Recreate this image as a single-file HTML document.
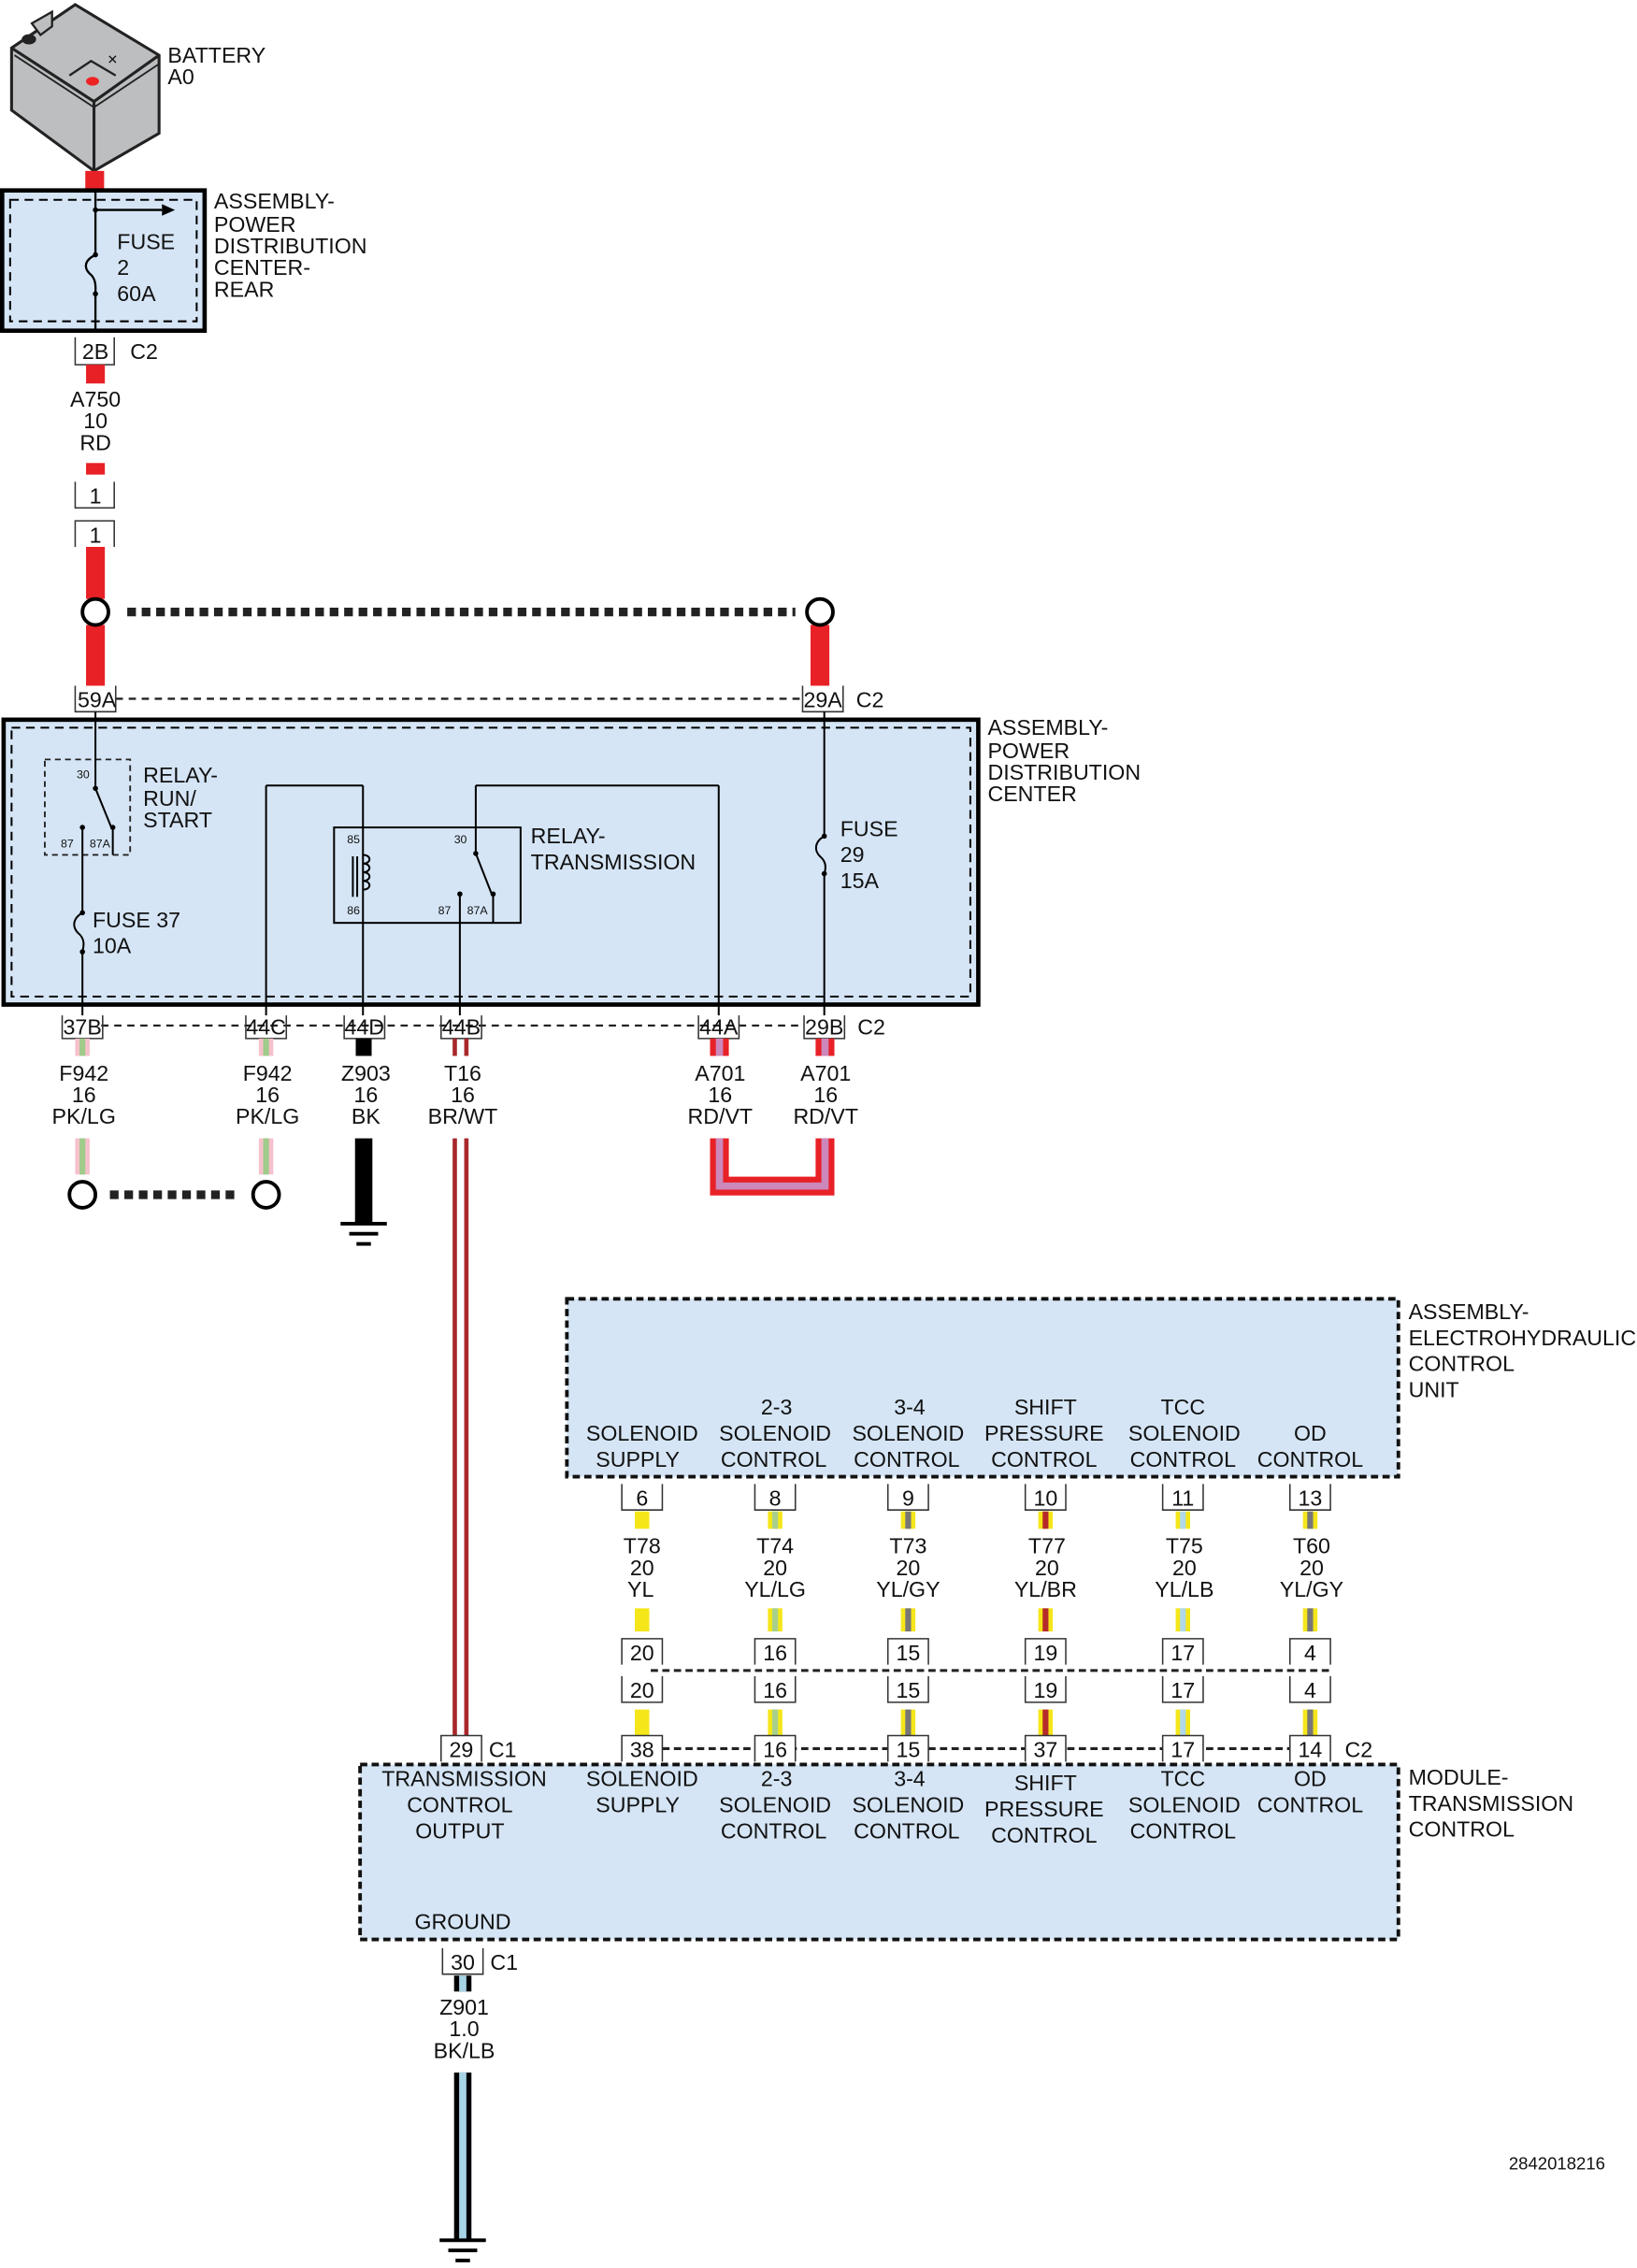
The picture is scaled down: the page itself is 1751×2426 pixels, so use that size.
<!DOCTYPE html>
<html><head><meta charset="utf-8"><style>
html,body{margin:0;padding:0;background:#fff}
svg{display:block}
text{font-family:"Liberation Sans",sans-serif;font-size:15px;fill:#111}
.m{text-anchor:middle}
.s{font-size:8px}
</style></head><body>
<svg width="1751" height="2426" viewBox="0 0 1132 1568" xmlns="http://www.w3.org/2000/svg">
<defs>
<g id="gnd"><line x1="-16" y1="0" x2="16" y2="0" stroke="#000" stroke-width="2.5"/><line x1="-10" y1="7" x2="10" y2="7" stroke="#000" stroke-width="2.5"/><line x1="-5" y1="14" x2="5" y2="14" stroke="#000" stroke-width="2.5"/></g>
</defs>
<rect width="1132" height="1568" fill="#fff"/>

<!-- Battery -->
<polygon points="8,33 52,3 110,38 110,92 65,118 8,76" fill="#bcbec0" stroke="#222" stroke-width="2"/>
<polyline points="8,33 65,70 110,38" fill="none" stroke="#222" stroke-width="2"/>
<line x1="65" y1="70" x2="65" y2="118" stroke="#222" stroke-width="2"/>
<polyline points="10,38 65,74 110,44" fill="none" stroke="#222" stroke-width="1.2"/>
<polygon points="22,16 36,8 36,18 28,24" fill="#bcbec0" stroke="#222" stroke-width="1.5"/>
<ellipse cx="20" cy="27" rx="5" ry="3.5" fill="#222"/>
<polyline points="48,52 63,42 80,52" fill="none" stroke="#222" stroke-width="1.5"/>
<ellipse cx="64" cy="56" rx="4.5" ry="3" fill="#e22"/>
<text x="74" y="44" class="s" style="font-size:9px">✕</text>
<text x="116" y="43">BATTERY</text>
<text x="116" y="58">A0</text>
<rect x="59" y="118" width="13" height="13" fill="#e82127"/>

<!-- PDC rear -->
<rect x="1.5" y="131.5" width="140" height="97" fill="#d5e5f5" stroke="#000" stroke-width="3"/>
<rect x="7" y="138" width="129" height="84" fill="none" stroke="#000" stroke-width="1.3" stroke-dasharray="6,4"/>
<line x1="66" y1="131" x2="66" y2="176" stroke="#000" stroke-width="1.5"/>
<line x1="66" y1="203" x2="66" y2="229" stroke="#000" stroke-width="1.5"/>
<path d="M66,176 C58,180 58,185 62,189 C67,193 66,199 66,203" fill="none" stroke="#000" stroke-width="1.5"/>
<circle cx="66" cy="176" r="1.8"/><circle cx="66" cy="203" r="1.8"/><circle cx="66" cy="145" r="1.8"/>
<line x1="66" y1="145" x2="112" y2="145" stroke="#000" stroke-width="1.5"/>
<polygon points="112,141 121,145 112,149" fill="#000"/>
<text x="81" y="172">FUSE</text><text x="81" y="190">2</text><text x="81" y="208">60A</text>
<text x="148" y="144">ASSEMBLY-</text><text x="148" y="160">POWER</text><text x="148" y="175">DISTRIBUTION</text><text x="148" y="190">CENTER-</text><text x="148" y="205">REAR</text>

<!-- 2B -->
<polyline points="52,233 52,252 79,252 79,233" fill="none" stroke="#333" stroke-width="1"/>
<text x="66" y="248" class="m">2B</text><text x="90" y="248">C2</text>
<rect x="59.5" y="252" width="13" height="13" fill="#e82127"/>
<text x="66" y="281" class="m">A750</text><text x="66" y="296" class="m">10</text><text x="66" y="311" class="m">RD</text>
<rect x="59.5" y="320" width="13" height="8" fill="#e82127"/>
<polyline points="52,333 52,351 79,351 79,333" fill="none" stroke="#333" stroke-width="1"/>
<text x="66" y="348" class="m">1</text>
<polyline points="52,378 52,360 79,360 79,378" fill="none" stroke="#333" stroke-width="1"/>
<text x="66" y="375" class="m">1</text>
<rect x="59.5" y="378" width="13" height="36" fill="#e82127"/>
<rect x="59.5" y="432" width="13" height="43" fill="#e82127"/>
<rect x="560.5" y="432" width="13" height="43" fill="#e82127"/>
<circle cx="66" cy="423" r="9" fill="#fff" stroke="#000" stroke-width="2.5"/>
<circle cx="567" cy="423" r="9" fill="#fff" stroke="#000" stroke-width="2.5"/>
<line x1="88" y1="423" x2="550" y2="423" stroke="#222" stroke-width="6" stroke-dasharray="6,4"/>

<!-- 59A 29A -->
<line x1="80" y1="483" x2="554" y2="483" stroke="#222" stroke-width="1.5" stroke-dasharray="5,4"/>
<polyline points="52,474 52,492 80,492 80,474" fill="#fff" stroke="#333" stroke-width="1"/>
<text x="67" y="489" class="m">59A</text>
<polyline points="555,474 555,492 583,492 583,474" fill="#fff" stroke="#333" stroke-width="1"/>
<text x="569" y="489" class="m">29A</text><text x="592" y="489">C2</text>

<!-- PDC -->
<rect x="2.5" y="497.5" width="674" height="197" fill="#d5e5f5" stroke="#000" stroke-width="3"/>
<rect x="8" y="503" width="663" height="186" fill="none" stroke="#000" stroke-width="1.3" stroke-dasharray="6,4"/>
<text x="683" y="508">ASSEMBLY-</text><text x="683" y="524">POWER</text><text x="683" y="539">DISTRIBUTION</text><text x="683" y="554">CENTER</text>

<!-- relay run/start -->
<rect x="31" y="525" width="59" height="66" fill="none" stroke="#222" stroke-width="1.2" stroke-dasharray="4,3"/>
<g stroke="#000" stroke-width="1.3" fill="none">
<line x1="66" y1="492" x2="66" y2="545"/>
<line x1="66" y1="545" x2="77" y2="572"/>
<line x1="78" y1="572" x2="78" y2="591"/>
<line x1="57" y1="572" x2="57" y2="631"/>
<line x1="57" y1="658" x2="57" y2="702"/>
<path d="M57,631 C50,635 50,641 54,645 C59,649 58,654 57,658"/>
<line x1="184" y1="543" x2="184" y2="702"/>
<line x1="184" y1="543" x2="251" y2="543"/>
<line x1="251" y1="543" x2="251" y2="702"/>
<rect x="231" y="572" width="129" height="66"/>
<line x1="329" y1="543" x2="497" y2="543"/>
<line x1="329" y1="543" x2="329" y2="590"/>
<line x1="329" y1="590" x2="340" y2="618"/>
<line x1="341" y1="618" x2="341" y2="638"/>
<line x1="318" y1="618" x2="318" y2="702"/>
<line x1="497" y1="543" x2="497" y2="702"/>
<line x1="570" y1="492" x2="570" y2="578"/>
<line x1="570" y1="604" x2="570" y2="702"/>
<path d="M570,578 C563,582 563,588 567,592 C572,596 571,601 570,604"/>
<path d="M251,591 c6,0 6,6 0,6 c6,0 6,6 0,6 c6,0 6,6 0,6 c6,0 6,6 0,6"/>
<line x1="244" y1="592" x2="244" y2="620"/><line x1="247" y1="592" x2="247" y2="620"/>
</g>
<circle cx="66" cy="545" r="1.8"/><circle cx="78" cy="572" r="1.8"/><circle cx="57" cy="572" r="1.8"/>
<circle cx="57" cy="631" r="1.8"/><circle cx="57" cy="658" r="1.8"/>
<circle cx="329" cy="590" r="1.8"/><circle cx="341" cy="618" r="1.8"/><circle cx="318" cy="618" r="1.8"/>
<circle cx="570" cy="578" r="1.8"/><circle cx="570" cy="604" r="1.8"/>
<text x="53" y="538" class="s">30</text><text x="42" y="586" class="s">87</text><text x="62" y="586" class="s">87A</text>
<text x="99" y="541">RELAY-</text><text x="99" y="557">RUN/</text><text x="99" y="572">START</text>
<text x="64" y="641">FUSE 37</text><text x="64" y="659">10A</text>
<text x="240" y="583" class="s">85</text><text x="240" y="632" class="s">86</text>
<text x="314" y="583" class="s">30</text><text x="303" y="632" class="s">87</text><text x="323" y="632" class="s">87A</text>
<text x="367" y="583">RELAY-</text><text x="367" y="601">TRANSMISSION</text>
<text x="581" y="578">FUSE</text><text x="581" y="596">29</text><text x="581" y="614">15A</text>

<!-- bottom PDC connectors -->
<line x1="70" y1="709" x2="556" y2="709" stroke="#222" stroke-width="1.5" stroke-dasharray="5,4"/>
<g fill="none" stroke="#333" stroke-width="1">
<polyline points="43,702 43,718 71,718 71,702"/>
<polyline points="170,702 170,718 198,718 198,702"/>
<polyline points="238,702 238,718 266,718 266,702"/>
<polyline points="305,702 305,718 333,718 333,702"/>
<polyline points="483,702 483,718 511,718 511,702"/>
<polyline points="556,702 556,718 584,718 584,702"/>
</g>
<text x="57" y="715" class="m">37B</text><text x="184" y="715" class="m">44C</text><text x="252" y="715" class="m">44D</text>
<text x="319" y="715" class="m">44B</text><text x="497" y="715" class="m">44A</text><text x="570" y="715" class="m">29B</text><text x="593" y="715">C2</text>

<!-- wires under -->
<g>
<rect x="52" y="718" width="10" height="12" fill="#f6c0cc"/><rect x="55" y="718" width="4" height="12" fill="#9fcc8a"/>
<rect x="179" y="718" width="10" height="12" fill="#f6c0cc"/><rect x="182" y="718" width="4" height="12" fill="#9fcc8a"/>
<rect x="246" y="718" width="11" height="12" fill="#000"/>
<rect x="313" y="718" width="3" height="12" fill="#a8282b"/><rect x="321" y="718" width="3" height="12" fill="#a8282b"/>
<rect x="491" y="718" width="13" height="12" fill="#e82127"/><rect x="495" y="718" width="5" height="12" fill="#cc88bb"/>
<rect x="564" y="718" width="13" height="12" fill="#e82127"/><rect x="568" y="718" width="5" height="12" fill="#cc88bb"/>
</g>
<text x="58" y="747" class="m">F942</text><text x="58" y="762" class="m">16</text><text x="58" y="777" class="m">PK/LG</text>
<text x="185" y="747" class="m">F942</text><text x="185" y="762" class="m">16</text><text x="185" y="777" class="m">PK/LG</text>
<text x="253" y="747" class="m">Z903</text><text x="253" y="762" class="m">16</text><text x="253" y="777" class="m">BK</text>
<text x="320" y="747" class="m">T16</text><text x="320" y="762" class="m">16</text><text x="320" y="777" class="m">BR/WT</text>
<text x="498" y="747" class="m">A701</text><text x="498" y="762" class="m">16</text><text x="498" y="777" class="m">RD/VT</text>
<text x="571" y="747" class="m">A701</text><text x="571" y="762" class="m">16</text><text x="571" y="777" class="m">RD/VT</text>

<rect x="52" y="787" width="10" height="25" fill="#f6c0cc"/><rect x="55" y="787" width="4" height="25" fill="#9fcc8a"/>
<rect x="179" y="787" width="10" height="25" fill="#f6c0cc"/><rect x="182" y="787" width="4" height="25" fill="#9fcc8a"/>
<circle cx="57" cy="826" r="9" fill="#fff" stroke="#000" stroke-width="2.5"/>
<circle cx="184" cy="826" r="9" fill="#fff" stroke="#000" stroke-width="2.5"/>
<line x1="76" y1="826" x2="166" y2="826" stroke="#222" stroke-width="6" stroke-dasharray="6,4"/>
<rect x="245.5" y="787" width="12" height="58" fill="#000"/>
<use href="#gnd" x="251.5" y="846"/>
<rect x="313" y="787" width="3" height="413" fill="#a8282b"/><rect x="321" y="787" width="3" height="413" fill="#a8282b"/>
<path d="M497.5,787 V820 H570.5 V787" fill="none" stroke="#e82127" stroke-width="13"/>
<path d="M497.5,787 V820 H570.5 V787" fill="none" stroke="#cc88bb" stroke-width="5"/>

<!-- EHCU -->
<rect x="392" y="898" width="575" height="123" fill="#d5e5f5" stroke="#111" stroke-width="2.5" stroke-dasharray="5,3"/>
<text x="974" y="912">ASSEMBLY-</text><text x="974" y="930">ELECTROHYDRAULIC</text><text x="974" y="948">CONTROL</text><text x="974" y="966">UNIT</text>
<text x="444" y="996" class="m">SOLENOID</text><text x="441" y="1014" class="m">SUPPLY</text>
<text x="537" y="978" class="m">2-3</text><text x="536" y="996" class="m">SOLENOID</text><text x="535" y="1014" class="m">CONTROL</text>
<text x="629" y="978" class="m">3-4</text><text x="628" y="996" class="m">SOLENOID</text><text x="627" y="1014" class="m">CONTROL</text>
<text x="723" y="978" class="m">SHIFT</text><text x="722" y="996" class="m">PRESSURE</text><text x="722" y="1014" class="m">CONTROL</text>
<text x="818" y="978" class="m">TCC</text><text x="819" y="996" class="m">SOLENOID</text><text x="818" y="1014" class="m">CONTROL</text>
<text x="906" y="996" class="m">OD</text><text x="906" y="1014" class="m">CONTROL</text>

<!-- column connectors -->
<g fill="none" stroke="#333" stroke-width="1">
<polyline points="430,1026 430,1044 458,1044 458,1026"/>
<polyline points="522,1026 522,1044 550,1044 550,1026"/>
<polyline points="614,1026 614,1044 642,1044 642,1026"/>
<polyline points="709,1026 709,1044 737,1044 737,1026"/>
<polyline points="804,1026 804,1044 832,1044 832,1026"/>
<polyline points="892,1026 892,1044 920,1044 920,1026"/>
<polyline points="430,1151 430,1133 458,1133 458,1151"/>
<polyline points="522,1151 522,1133 550,1133 550,1151"/>
<polyline points="614,1151 614,1133 642,1133 642,1151"/>
<polyline points="709,1151 709,1133 737,1133 737,1151"/>
<polyline points="804,1151 804,1133 832,1133 832,1151"/>
<polyline points="892,1151 892,1133 920,1133 920,1151"/>
<polyline points="430,1159 430,1177 458,1177 458,1159"/>
<polyline points="522,1159 522,1177 550,1177 550,1159"/>
<polyline points="614,1159 614,1177 642,1177 642,1159"/>
<polyline points="709,1159 709,1177 737,1177 737,1159"/>
<polyline points="804,1159 804,1177 832,1177 832,1159"/>
<polyline points="892,1159 892,1177 920,1177 920,1159"/>
</g>
<line x1="450" y1="1155" x2="920" y2="1155" stroke="#222" stroke-width="2" stroke-dasharray="5,3"/>
<text x="444" y="1041" class="m">6</text><text x="536" y="1041" class="m">8</text><text x="628" y="1041" class="m">9</text><text x="723" y="1041" class="m">10</text><text x="818" y="1041" class="m">11</text><text x="906" y="1041" class="m">13</text>
<text x="444" y="1148" class="m">20</text><text x="536" y="1148" class="m">16</text><text x="628" y="1148" class="m">15</text><text x="723" y="1148" class="m">19</text><text x="818" y="1148" class="m">17</text><text x="906" y="1148" class="m">4</text>
<text x="444" y="1174" class="m">20</text><text x="536" y="1174" class="m">16</text><text x="628" y="1174" class="m">15</text><text x="723" y="1174" class="m">19</text><text x="818" y="1174" class="m">17</text><text x="906" y="1174" class="m">4</text>

<text x="444" y="1074" class="m">T78</text><text x="444" y="1089" class="m">20</text><text x="443" y="1104" class="m">YL</text>
<text x="536" y="1074" class="m">T74</text><text x="536" y="1089" class="m">20</text><text x="536" y="1104" class="m">YL/LG</text>
<text x="628" y="1074" class="m">T73</text><text x="628" y="1089" class="m">20</text><text x="628" y="1104" class="m">YL/GY</text>
<text x="724" y="1074" class="m">T77</text><text x="724" y="1089" class="m">20</text><text x="723" y="1104" class="m">YL/BR</text>
<text x="819" y="1074" class="m">T75</text><text x="819" y="1089" class="m">20</text><text x="819" y="1104" class="m">YL/LB</text>
<text x="907" y="1074" class="m">T60</text><text x="907" y="1089" class="m">20</text><text x="907" y="1104" class="m">YL/GY</text>

<!-- yellow wires: three segments each -->
<g>
<rect x="439" y="1045" width="10" height="12" fill="#f5e61a"/><rect x="439" y="1112" width="10" height="16" fill="#f5e61a"/><rect x="439" y="1182" width="10" height="18" fill="#f5e61a"/>
<rect x="531" y="1045" width="10" height="12" fill="#f5e61a"/><rect x="531" y="1112" width="10" height="16" fill="#f5e61a"/><rect x="531" y="1182" width="10" height="18" fill="#f5e61a"/>
<rect x="534" y="1045" width="4" height="12" fill="#a8d08d"/><rect x="534" y="1112" width="4" height="16" fill="#a8d08d"/><rect x="534" y="1182" width="4" height="18" fill="#a8d08d"/>
<rect x="623" y="1045" width="10" height="12" fill="#f5e61a"/><rect x="623" y="1112" width="10" height="16" fill="#f5e61a"/><rect x="623" y="1182" width="10" height="18" fill="#f5e61a"/>
<rect x="626" y="1045" width="4" height="12" fill="#777"/><rect x="626" y="1112" width="4" height="16" fill="#777"/><rect x="626" y="1182" width="4" height="18" fill="#777"/>
<rect x="718" y="1045" width="10" height="12" fill="#f5e61a"/><rect x="718" y="1112" width="10" height="16" fill="#f5e61a"/><rect x="718" y="1182" width="10" height="18" fill="#f5e61a"/>
<rect x="721" y="1045" width="4" height="12" fill="#b52a2a"/><rect x="721" y="1112" width="4" height="16" fill="#b52a2a"/><rect x="721" y="1182" width="4" height="18" fill="#b52a2a"/>
<rect x="813" y="1045" width="10" height="12" fill="#f5e61a"/><rect x="813" y="1112" width="10" height="16" fill="#f5e61a"/><rect x="813" y="1182" width="10" height="18" fill="#f5e61a"/>
<rect x="816" y="1045" width="4" height="12" fill="#b0d8e8"/><rect x="816" y="1112" width="4" height="16" fill="#b0d8e8"/><rect x="816" y="1182" width="4" height="18" fill="#b0d8e8"/>
<rect x="901" y="1045" width="10" height="12" fill="#f5e61a"/><rect x="901" y="1112" width="10" height="16" fill="#f5e61a"/><rect x="901" y="1182" width="10" height="18" fill="#f5e61a"/>
<rect x="904" y="1045" width="4" height="12" fill="#777"/><rect x="904" y="1112" width="4" height="16" fill="#777"/><rect x="904" y="1182" width="4" height="18" fill="#777"/>
</g>

<!-- TCM connectors -->
<line x1="458" y1="1209" x2="892" y2="1209" stroke="#222" stroke-width="2" stroke-dasharray="5,3"/>
<g fill="#fff" stroke="#333" stroke-width="1">
<polyline points="305,1218 305,1200 333,1200 333,1218"/>
<polyline points="430,1218 430,1200 458,1200 458,1218"/>
<polyline points="522,1218 522,1200 550,1200 550,1218"/>
<polyline points="614,1218 614,1200 642,1200 642,1218"/>
<polyline points="709,1218 709,1200 737,1200 737,1218"/>
<polyline points="804,1218 804,1200 832,1200 832,1218"/>
<polyline points="892,1218 892,1200 920,1200 920,1218"/>
</g>
<text x="319" y="1215" class="m">29</text><text x="338" y="1215">C1</text>
<text x="444" y="1215" class="m">38</text><text x="536" y="1215" class="m">16</text><text x="628" y="1215" class="m">15</text><text x="723" y="1215" class="m">37</text><text x="818" y="1215" class="m">17</text><text x="906" y="1215" class="m">14</text><text x="930" y="1215">C2</text>

<rect x="249" y="1220" width="718" height="121" fill="#d5e5f5" stroke="#111" stroke-width="2.5" stroke-dasharray="5,3"/>
<text x="321" y="1235" class="m">TRANSMISSION</text><text x="318" y="1253" class="m">CONTROL</text><text x="318" y="1271" class="m">OUTPUT</text>
<text x="444" y="1235" class="m">SOLENOID</text><text x="441" y="1253" class="m">SUPPLY</text>
<text x="537" y="1235" class="m">2-3</text><text x="536" y="1253" class="m">SOLENOID</text><text x="535" y="1271" class="m">CONTROL</text>
<text x="629" y="1235" class="m">3-4</text><text x="628" y="1253" class="m">SOLENOID</text><text x="627" y="1271" class="m">CONTROL</text>
<text x="723" y="1238" class="m">SHIFT</text><text x="722" y="1256" class="m">PRESSURE</text><text x="722" y="1274" class="m">CONTROL</text>
<text x="818" y="1235" class="m">TCC</text><text x="819" y="1253" class="m">SOLENOID</text><text x="818" y="1271" class="m">CONTROL</text>
<text x="906" y="1235" class="m">OD</text><text x="906" y="1253" class="m">CONTROL</text>
<text x="974" y="1234">MODULE-</text><text x="974" y="1252">TRANSMISSION</text><text x="974" y="1270">CONTROL</text>
<text x="320" y="1334" class="m">GROUND</text>

<polyline points="306,1347 306,1365 334,1365 334,1347" fill="none" stroke="#333" stroke-width="1"/>
<text x="320" y="1362" class="m">30</text><text x="339" y="1362">C1</text>
<rect x="314" y="1366" width="12" height="11" fill="#000"/><rect x="317.5" y="1366" width="5" height="11" fill="#a8d4e6"/>
<text x="321" y="1393" class="m">Z901</text><text x="321" y="1408" class="m">1.0</text><text x="321" y="1423" class="m">BK/LB</text>
<rect x="314" y="1433" width="12" height="115" fill="#000"/><rect x="317.5" y="1433" width="5" height="115" fill="#a8d4e6"/>
<use href="#gnd" x="320" y="1549"/>

<text x="1110" y="1500" style="font-size:12px;text-anchor:end">2842018216</text>
</svg>
</body></html>
